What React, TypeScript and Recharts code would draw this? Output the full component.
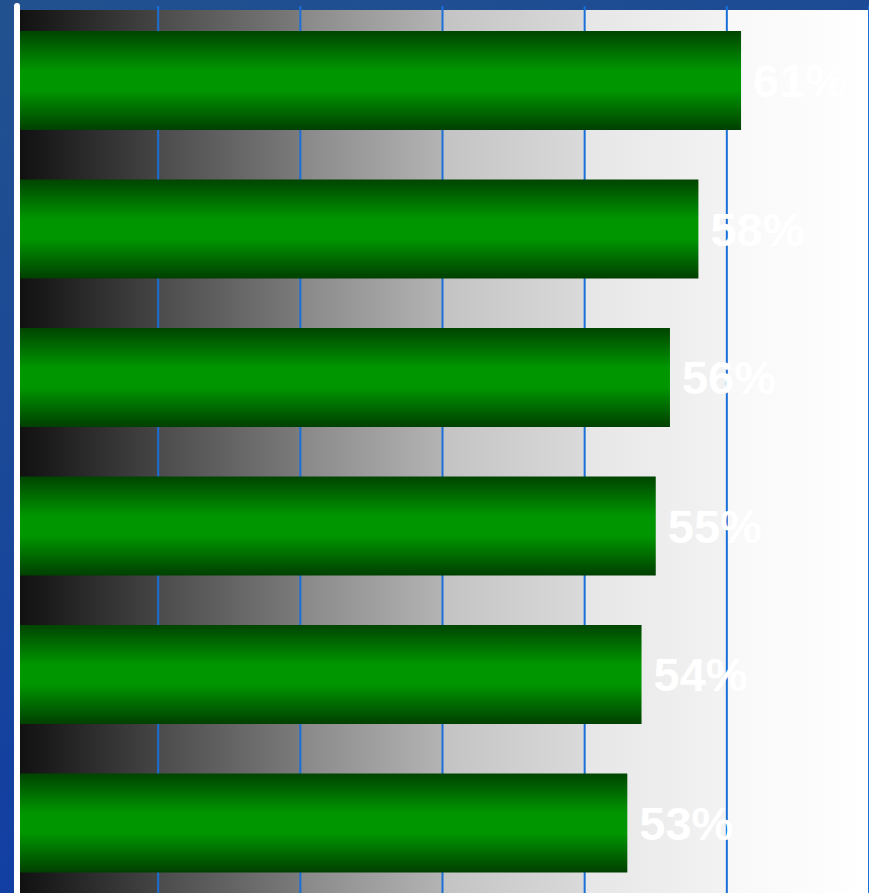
import { BarChart, Bar, XAxis, YAxis, CartesianGrid, LabelList, ReferenceLine } from 'recharts';

const categories = ['A', 'B', 'C', 'D', 'E', 'F'];
const shares = [61, 58, 56, 55, 54, 53];
const gridTicks = [20, 30, 40, 50, 60, 70];

const data = categories.map((name, i) => ({ name, value: shares[i] }));

// plot background is shaded separately inside each grid band
const bgGradient =
  'linear-gradient(to right, #111111 0px, #454545 138px, #4b4b4b 138px, #7b7b7b 280px, #888888 280px, #b4b4b4 423px, #c3c3c3 423px, #dadada 565px, #e6e6e6 565px, #f3f3f3 707px, #f8f8f8 707px, #ffffff 849px)';

export default function App() {
  return (
    <div
      style={{
        position: 'absolute',
        left: 0,
        top: 0,
        width: 869,
        height: 893,
        overflow: 'hidden',
        background: 'linear-gradient(160deg, #22518f 0%, #1a4898 40%, #0b37ab 100%)',
      }}
    >
      <div
        style={{
          position: 'absolute',
          left: 20,
          top: 10,
          width: 849,
          height: 883,
          background: bgGradient,
        }}
      />
      <div style={{ position: 'absolute', left: 0, top: 0 }}>
        <BarChart
          width={869}
          height={897}
          data={data}
          layout="vertical"
          margin={{ top: 6, right: 0, bottom: 0, left: 16 }}
          style={{ fontFamily: 'Arial, "Liberation Sans", sans-serif' }}
        >
          <defs>
            <linearGradient id="barFill" x1="0" y1="0" x2="0" y2="1">
              <stop offset="0%" stopColor="#004400" />
              <stop offset="40%" stopColor="#009600" />
              <stop offset="60%" stopColor="#009600" />
              <stop offset="100%" stopColor="#003f00" />
            </linearGradient>
          </defs>
          <CartesianGrid horizontal={false} stroke="#1a70d8" strokeWidth={2} />
          <XAxis type="number" domain={[10, 70]} ticks={gridTicks} hide />
          <YAxis type="category" dataKey="name" hide />
          <Bar dataKey="value" fill="url(#barFill)" barSize={99} isAnimationActive={false}>
            <LabelList
              dataKey="value"
              position="right"
              offset={12}
              formatter={(v: number) => `${v}%`}
              fill="#ffffff"
              fontSize={47}
              fontWeight="bold"
            />
          </Bar>
          <ReferenceLine
            x={10.07}
            stroke="#ffffff"
            strokeWidth={6}
            strokeLinecap="round"
            ifOverflow="visible"
          />
        </BarChart>
      </div>
    </div>
  );
}
